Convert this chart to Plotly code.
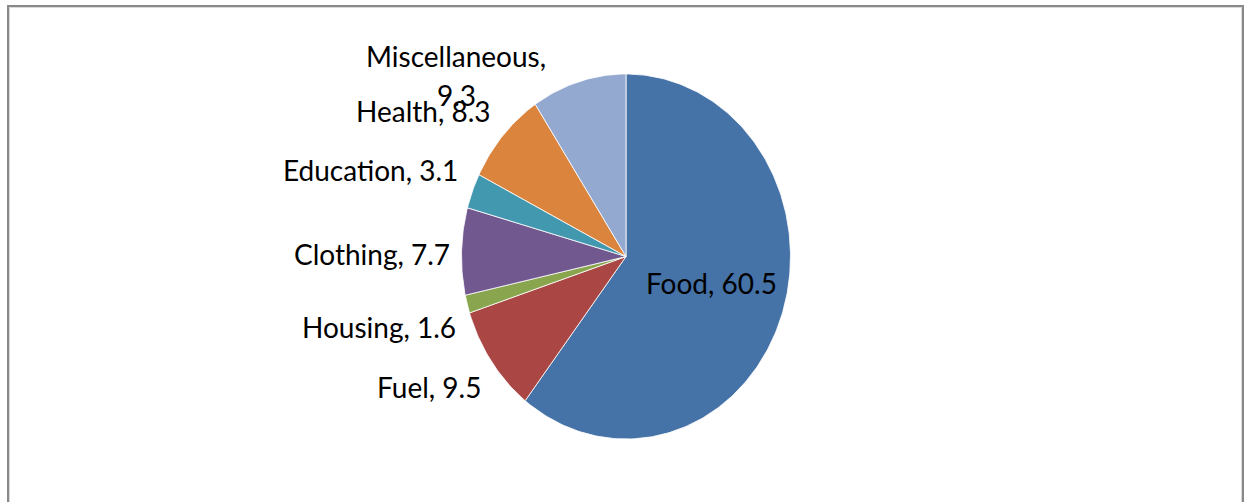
import numpy as np
import plotly.graph_objects as go

# household expenditure shares (%)
categories = ["Food", "Fuel", "Housing", "Clothing", "Education", "Health", "Miscellaneous"]
shares = [60.5, 9.5, 1.6, 7.7, 3.1, 8.3, 9.3]
colors = ["#4572A7", "#AA4643", "#89A54E", "#71588F", "#4198AF", "#DB843D", "#93A9CF"]

W, H = 1244, 502
# pie centre and radii in pixels (the original pie is slightly stretched vertically)
CX, CY, RX, RY = 626, 256.5, 164.5, 182.5

fig = go.Figure()

# slices drawn clockwise from 12 o'clock, unit circle in axis units
total = sum(shares)
start = 0.0
for cat, val, col in zip(categories, shares, colors):
    end = start + val / total * 2 * np.pi
    t = np.linspace(start, end, max(int(val * 4), 8))
    xs = np.concatenate([[0], np.sin(t), [0]])
    ys = np.concatenate([[0], np.cos(t), [0]])
    fig.add_trace(go.Scatter(
        x=xs, y=ys, mode="lines", fill="toself", fillcolor=col,
        line=dict(color="rgba(255,255,255,0.8)", width=1),
        name=cat, hoverinfo="name", showlegend=False,
    ))
    start = end

# label placement (pixel positions, Excel "best fit" style)
label_pos = {
    "Food": (644, 283, "left"),
    "Fuel": (483, 387, "right"),
    "Housing": (458, 327, "right"),
    "Clothing": (452, 254, "right"),
    "Education": (460, 170, "right"),
    "Health": (493, 111, "right"),
    "Miscellaneous": (456, 56, "center"),
}

font = dict(family="Lato, Calibri, sans-serif", size=28, color="#000000")


def label(px, py, text, anchor):
    fig.add_annotation(
        x=(px - CX) / RX, y=(CY - py) / RY, xref="x", yref="y",
        text=text, showarrow=False, xanchor=anchor, yanchor="middle",
        font=font,
    )


for cat, val in zip(categories, shares):
    px, py, anchor = label_pos[cat]
    if cat == "Miscellaneous":
        # wrapped label, second line sits lower like the original
        label(px, py, f"{cat},", anchor)
        label(px, py + 39, f"{val}", anchor)
    else:
        label(px, py, f"{cat}, {val}", anchor)

# chart border
fig.add_shape(type="rect", xref="paper", yref="paper",
              x0=8 / W, x1=1243 / W, y0=1 - 6 / H, y1=-0.1,
              line=dict(color="#898989", width=2))
fig.add_shape(type="rect", xref="paper", yref="paper",
              x0=9.5 / W, x1=1241.5 / W, y0=1 - 7.5 / H, y1=-0.1,
              line=dict(color="#d9d9d9", width=1))

fig.update_xaxes(range=[-CX / RX, (W - CX) / RX], visible=False, fixedrange=True)
fig.update_yaxes(range=[-(H - CY) / RY, CY / RY], visible=False, fixedrange=True)
fig.update_layout(
    width=W, height=H,
    margin=dict(l=0, r=0, t=0, b=0),
    paper_bgcolor="white", plot_bgcolor="white",
    showlegend=False,
)

fig.write_html("out.html", config={"displayModeBar": False},
               post_script="document.body.style.margin='0px';")
